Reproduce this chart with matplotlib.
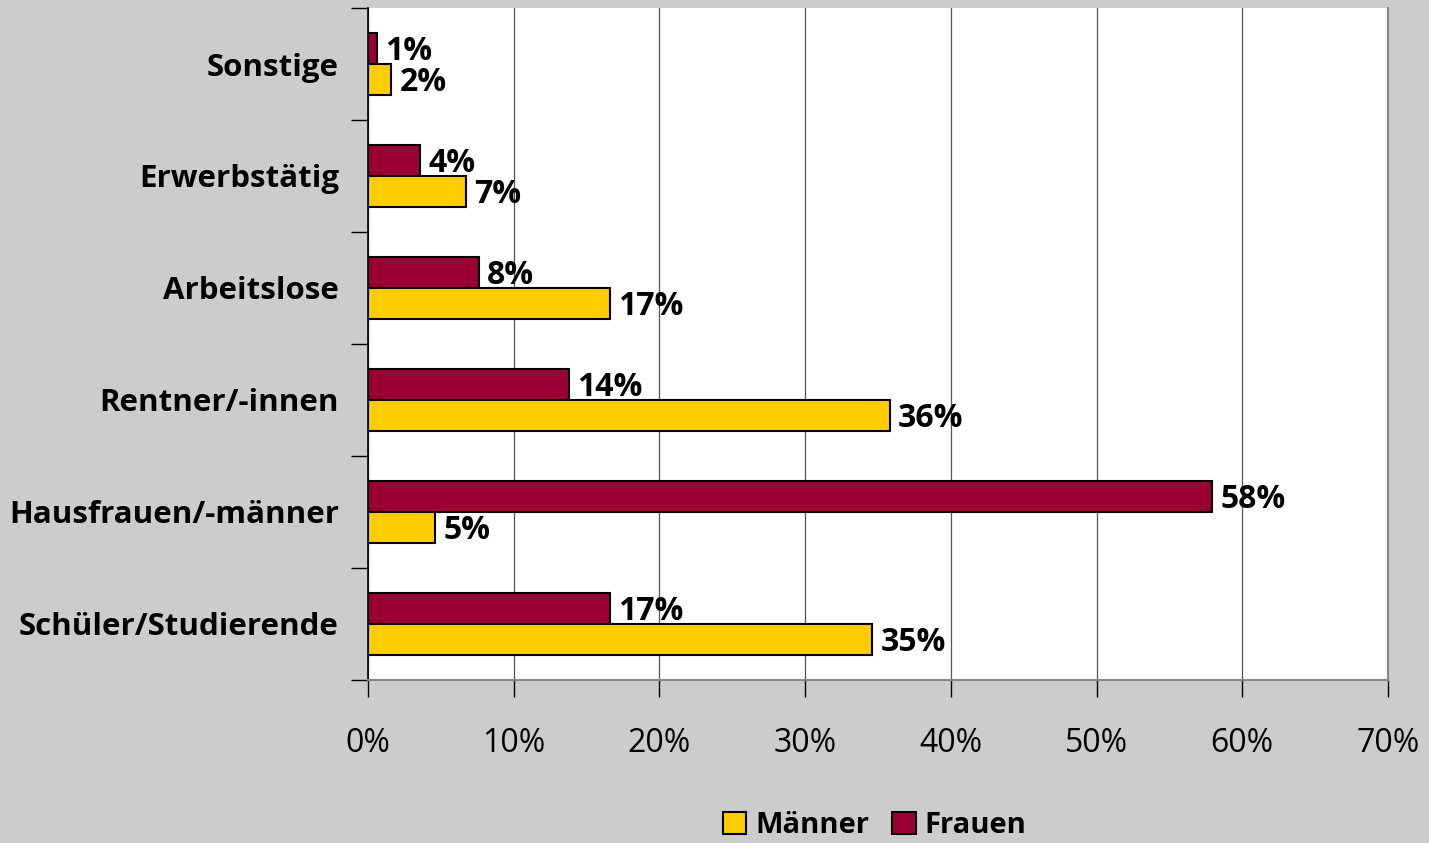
import matplotlib
matplotlib.use("Agg")
import matplotlib.pyplot as plt
import numpy as np
from matplotlib.patches import Patch

# ── data ───────────────────────────────────────────────────────────────────────
categories = ["Schüler/Studierende", "Hausfrauen/-männer", "Rentner/-innen",
              "Arbeitslose", "Erwerbstätig", "Sonstige"]
frauen = [16.6, 57.9, 13.8, 7.6, 3.6, 0.6]
maenner = [34.6, 4.6, 35.8, 16.6, 6.7, 1.6]
x_ticks = [0, 10, 20, 30, 40, 50, 60, 70]

COL_F = "#990033"
COL_M = "#ffcc00"
BG = "#cccccc"

plt.rcParams["font.family"] = ["Open Sans", "DejaVu Sans"]

fig = plt.figure(figsize=(14.29, 8.43), dpi=100, facecolor=BG)
ax = fig.add_axes([0.2575, 0.1934, 0.7138, 0.7971])
ax.set_facecolor("white")

y = np.arange(len(categories))
h = 0.28
ax.barh(y + h / 2, frauen, height=h, color=COL_F, edgecolor="black", linewidth=1.5, zorder=3)
ax.barh(y - h / 2, maenner, height=h, color=COL_M, edgecolor="black", linewidth=1.5, zorder=3)

for yi, v in zip(y, frauen):
    ax.annotate(f"{v:.0f}%", (v, yi + h / 2), xytext=(6, -2), textcoords="offset points",
                va="center", ha="left", fontsize=23, fontweight="bold", zorder=4)
for yi, v in zip(y, maenner):
    ax.annotate(f"{v:.0f}%", (v, yi - h / 2), xytext=(6, -2), textcoords="offset points",
                va="center", ha="left", fontsize=23, fontweight="bold", zorder=4)

ax.set_xlim(0, 70)
ax.set_ylim(-0.5, len(categories) - 0.5)
ax.set_xticks(x_ticks)
ax.set_xticklabels([f"{t}%" for t in x_ticks], fontsize=23)
ax.tick_params(axis="x", length=12, width=1, color="black", pad=22)
ax.xaxis.grid(True, color="#555555", linewidth=0.9, zorder=0)

# category boundaries as major ticks, names on minor ticks
ax.set_yticks(np.arange(-0.5, len(categories), 1.0))
ax.set_yticklabels([])
ax.tick_params(axis="y", which="major", length=12, width=1, color="black")
ax.set_yticks(y, minor=True)
ax.set_yticklabels(categories, minor=True, fontsize=22.5, fontweight="bold")
ax.tick_params(axis="y", which="minor", length=0, pad=21)

ax.spines["left"].set_color("black")
ax.spines["left"].set_linewidth(1.2)
for s in ("right", "top", "bottom"):
    ax.spines[s].set_color("#888888")
    ax.spines[s].set_linewidth(1.5)
ax.spines["top"].set_visible(False)

handles = [Patch(facecolor=COL_M, edgecolor="black", linewidth=1.5, label="Männer"),
           Patch(facecolor=COL_F, edgecolor="black", linewidth=1.5, label="Frauen")]
fig.legend(handles=handles, loc="lower center", bbox_to_anchor=(0.612, -0.028), ncol=2,
           frameon=False, prop={"size": 21, "weight": "bold"},
           handlelength=0.8, handleheight=0.8, handletextpad=0.3, columnspacing=0.8)

fig.savefig("out.png", dpi=100, facecolor=BG)
